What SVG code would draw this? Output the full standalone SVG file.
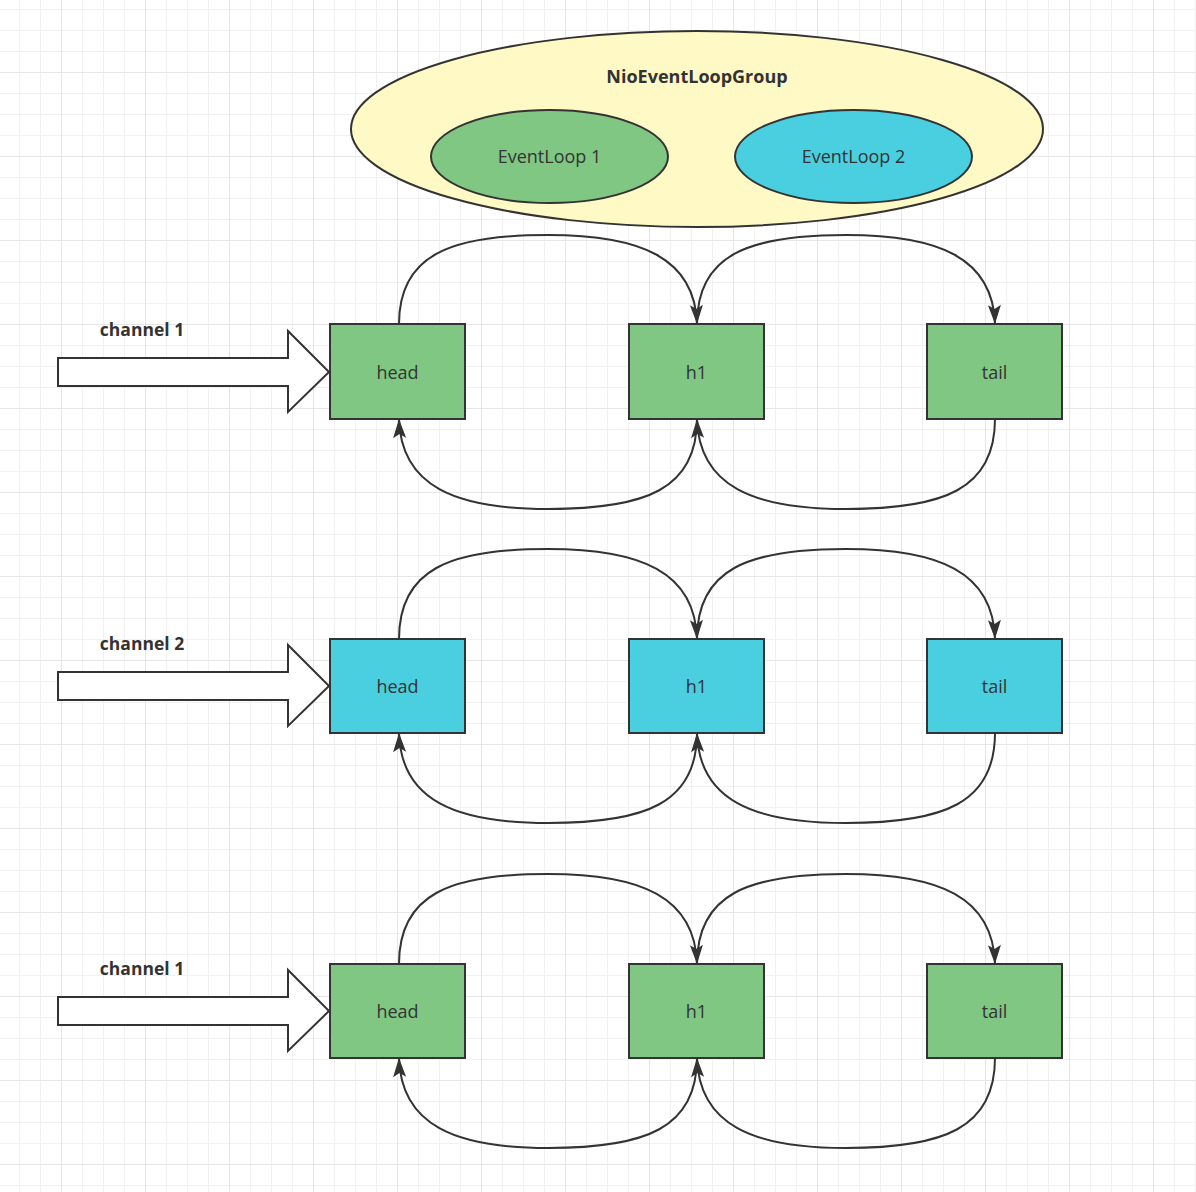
<svg xmlns="http://www.w3.org/2000/svg" width="1196" height="1192" viewBox="0 0 1196 1192">
<style>
.t{font-family:"Open Sans","Noto Sans","Liberation Sans",sans-serif;font-size:18px;fill:#333;text-anchor:middle;dominant-baseline:central}
.b{font-weight:bold}
.ch{font-size:17.5px}
.box{stroke:#333;stroke-width:2}
.g{fill:#80C783}
.c{fill:#4ACFE1}
.e{fill:none;stroke:#333;stroke-width:2}
.blk{fill:#fff;stroke:#333;stroke-width:2;stroke-linejoin:miter}
</style>
<defs>
<pattern id="grid" patternUnits="userSpaceOnUse" x="61" y="72" width="84" height="84">
<path d="M21.5,0V84M42.5,0V84M63.5,0V84M0,21.5H84M0,42.5H84M0,63.5H84" stroke="#f1f1f1" stroke-width="1" fill="none"/>
<path d="M0.5,0V84M0,0.5H84" stroke="#e6e6e6" stroke-width="1" fill="none"/>
</pattern>
<marker id="arrow" markerUnits="userSpaceOnUse" viewBox="-1 -8 21 16" refX="19" refY="0" markerWidth="21" markerHeight="16" orient="auto">
<path d="M0,-6.5 L19,0 L0,6.5 L4,0 Z" fill="#333"/>
</marker>
</defs>
<rect width="1196" height="1192" fill="#fff"/>
<rect width="1196" height="1192" fill="url(#grid)"/>

<g id="group">
<ellipse cx="697" cy="129" rx="346" ry="98" fill="#FFF9C5" stroke="#333" stroke-width="2"/>
<text class="t b" x="697" y="76">NioEventLoopGroup</text>
</g>
<g id="eventloop1">
<ellipse cx="549.5" cy="156.5" rx="118.5" ry="46.5" class="box g"/>
<text class="t" x="549.5" y="156">EventLoop 1</text>
</g>
<g id="eventloop2">
<ellipse cx="853.5" cy="156.5" rx="118.5" ry="46.5" class="box c"/>
<text class="t" x="853.5" y="156">EventLoop 2</text>
</g>

<g id="row1">
<g id="r1-arrow"><polygon class="blk" points="58,358 288,358 288,331 329,372 288,412 288,386 58,386"/><text class="t b ch" x="142" y="329">channel 1</text></g>
<g id="r1-head"><rect x="330" y="324" width="135" height="95" class="box g"/><text class="t" x="397.5" y="371.5">head</text></g>
<g id="r1-h1"><rect x="629" y="324" width="135" height="95" class="box g"/><text class="t" x="696.5" y="371.5">h1</text></g>
<g id="r1-tail"><rect x="927" y="324" width="135" height="95" class="box g"/><text class="t" x="994.5" y="371.5">tail</text></g>
</g>
<g id="row2">
<g id="r2-arrow"><polygon class="blk" points="58,672 288,672 288,645 329,686 288,726 288,700 58,700"/><text class="t b ch" x="142" y="643">channel 2</text></g>
<g id="r2-head"><rect x="330" y="639" width="135" height="94" class="box c"/><text class="t" x="397.5" y="686">head</text></g>
<g id="r2-h1"><rect x="629" y="639" width="135" height="94" class="box c"/><text class="t" x="696.5" y="686">h1</text></g>
<g id="r2-tail"><rect x="927" y="639" width="135" height="94" class="box c"/><text class="t" x="994.5" y="686">tail</text></g>
</g>
<g id="row3">
<g id="r3-arrow"><polygon class="blk" points="58,997 288,997 288,970 329,1011 288,1051 288,1025 58,1025"/><text class="t b ch" x="142" y="968">channel 1</text></g>
<g id="r3-head"><rect x="330" y="964" width="135" height="94" class="box g"/><text class="t" x="397.5" y="1011">head</text></g>
<g id="r3-h1"><rect x="629" y="964" width="135" height="94" class="box g"/><text class="t" x="696.5" y="1011">h1</text></g>
<g id="r3-tail"><rect x="927" y="964" width="135" height="94" class="box g"/><text class="t" x="994.5" y="1011">tail</text></g>
</g>

<g id="connectors" class="e" marker-end="url(#arrow)">
<path d="M399,324 C399,255 450,235 548,235 C641,235 695,258 697,324"/>
<path d="M697,324 C697,255 748,235 846,235 C939,235 993,258 995,324"/>
<path d="M995,419 C995,489 944,509 846,509 C753,509 699,486 697,419"/>
<path d="M697,419 C697,489 646,509 548,509 C455,509 401,486 399,419"/>

<path d="M399,639 C399,569 450,549 548,549 C641,549 695,572 697,639"/>
<path d="M697,639 C697,569 748,549 846,549 C939,549 993,572 995,639"/>
<path d="M995,733 C995,803 944,823 846,823 C753,823 699,800 697,733"/>
<path d="M697,733 C697,803 646,823 548,823 C455,823 401,800 399,733"/>

<path d="M399,964 C399,894 450,874 548,874 C641,874 695,897 697,964"/>
<path d="M697,964 C697,894 748,874 846,874 C939,874 993,897 995,964"/>
<path d="M995,1058 C995,1128 944,1148 846,1148 C753,1148 699,1125 697,1058"/>
<path d="M697,1058 C697,1128 646,1148 548,1148 C455,1148 401,1125 399,1058"/>
</g>
</svg>
